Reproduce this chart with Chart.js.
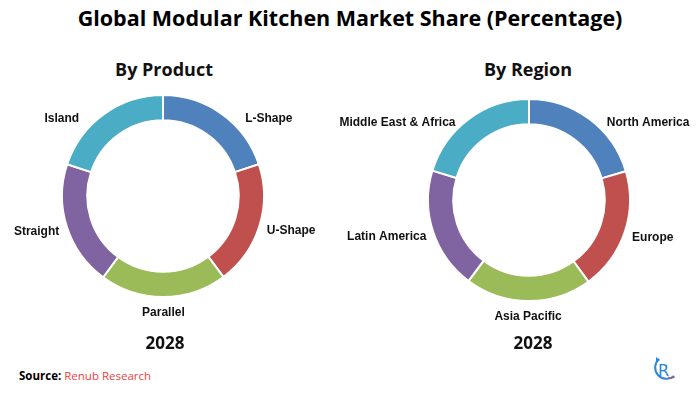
<!DOCTYPE html>
<html>
<head>
<meta charset="utf-8">
<script src="https://cdn.jsdelivr.net/npm/chart.js@4"></script>
<style>
  html, body { margin: 0; padding: 0; background: #fff; }
  body { width: 700px; height: 393px; position: relative; overflow: hidden; font-family: "Open Sans", sans-serif; }
  .title { position: absolute; left: 0; top: 3px; width: 700px; text-align: center; font-weight: 700; font-size: 21.5px; color: #000; }
  .sub { position: absolute; width: 200px; text-align: center; font-weight: 700; font-size: 18px; color: #111; }
  .year { position: absolute; width: 200px; text-align: center; font-weight: 700; font-size: 17px; color: #111; }
  .wrap { position: absolute; width: 400px; height: 300px; }
  .source { position: absolute; left: 19px; top: 368px; font-size: 11.5px; color: #000; }
  .source b { font-weight: 700; }
  .source span { color: #ef3e42; }
  .logo { position: absolute; left: 650px; top: 354px; }
</style>
</head>
<body>
<div class="title">Global Modular Kitchen Market Share (Percentage)</div>
<div class="sub" style="left:64px; top:57px;">By Product</div>
<div class="sub" style="left:428px; top:57px;">By Region</div>
<div class="wrap" style="left:-37px; top:46px;"><canvas id="product-chart"></canvas></div>
<div class="wrap" style="left:329px; top:50px;"><canvas id="region-chart"></canvas></div>
<div class="year" style="left:65px; top:331px;">2028</div>
<div class="year" style="left:433px; top:331px;">2028</div>
<div class="source"><b>Source:</b> <span>Renub Research</span></div>
<svg class="logo" width="28" height="30" viewBox="0 0 28 30">
  <path d="M9 5 A11 11 0 1 0 24 22" fill="none" stroke="#2f86d6" stroke-width="2"/>
  <path d="M6 3 L10 6 L6 8 Z" fill="#2f86d6"/>
  <text x="8" y="22" font-family="DejaVu Sans" font-size="16" fill="#2f86d6">R</text>
  <path d="M18 23 Q21 26 25 23" fill="none" stroke="#e8424a" stroke-width="1"/>
</svg>
<script>
const productLabels = ['L-Shape', 'U-Shape', 'Parallel', 'Straight', 'Island'];
const productShare = [19.9, 19.9, 20.3, 20.0, 19.9];

const regionLabels = ['North America', 'Europe', 'Asia Pacific', 'Latin America', 'Middle East & Africa'];
const regionShare = [20.4, 19.6, 20.2, 19.5, 20.3];

const sliceColors = ['#4f81bd', '#c0504d', '#9bbb59', '#8064a2', '#4bacc6'];

// category names drawn just outside each slice
const outsideLabels = {
  id: 'outsideLabels',
  afterDatasetsDraw(chart) {
    const ctx = chart.ctx;
    const meta = chart.getDatasetMeta(0);
    ctx.save();
    ctx.font = 'bold 12px "Liberation Sans", Arial, sans-serif';
    ctx.fillStyle = '#111';
    ctx.textAlign = 'center';
    ctx.textBaseline = 'middle';
    meta.data.forEach((arc, i) => {
      const p = arc.getProps(['x', 'y', 'startAngle', 'endAngle', 'outerRadius']);
      const mid = (p.startAngle + p.endAngle) / 2;
      const text = chart.data.labels[i];
      const w = ctx.measureText(text).width / 2;
      const r0 = p.outerRadius + 9;
      const a = r0 + w, b = r0 + 7;
      let c = Math.cos(mid), s = Math.sin(mid);
      let extra = 0;
      // keep the upper labels beside the ring, not above it
      const top = -0.77 * p.outerRadius;
      if (s * b < top) {
        s = top / b;
        c = Math.sign(c) * Math.sqrt(1 - s * s);
        extra = 6 * Math.sign(c);
      }
      ctx.fillText(text, p.x + c * a + extra, p.y + s * b);
    });
    ctx.restore();
  }
};

function makeDonut(id, labels, values) {
  const ctx = document.getElementById(id).getContext('2d');
  return new Chart(ctx, {
    type: 'doughnut',
    data: {
      labels: labels,
      datasets: [{
        data: values,
        backgroundColor: sliceColors,
        borderColor: '#fff',
        borderWidth: 2,
      }],
    },
    options: {
      responsive: true,
      maintainAspectRatio: false,
      animation: false,
      cutout: '75%',
      layout: { padding: { left: 98, right: 98, top: 48, bottom: 48 } },
      plugins: {
        legend: { display: false },
        tooltip: { enabled: false },
      },
    },
    plugins: [outsideLabels],
  });
}

makeDonut('product-chart', productLabels, productShare);
makeDonut('region-chart', regionLabels, regionShare);
</script>
</body>
</html>
